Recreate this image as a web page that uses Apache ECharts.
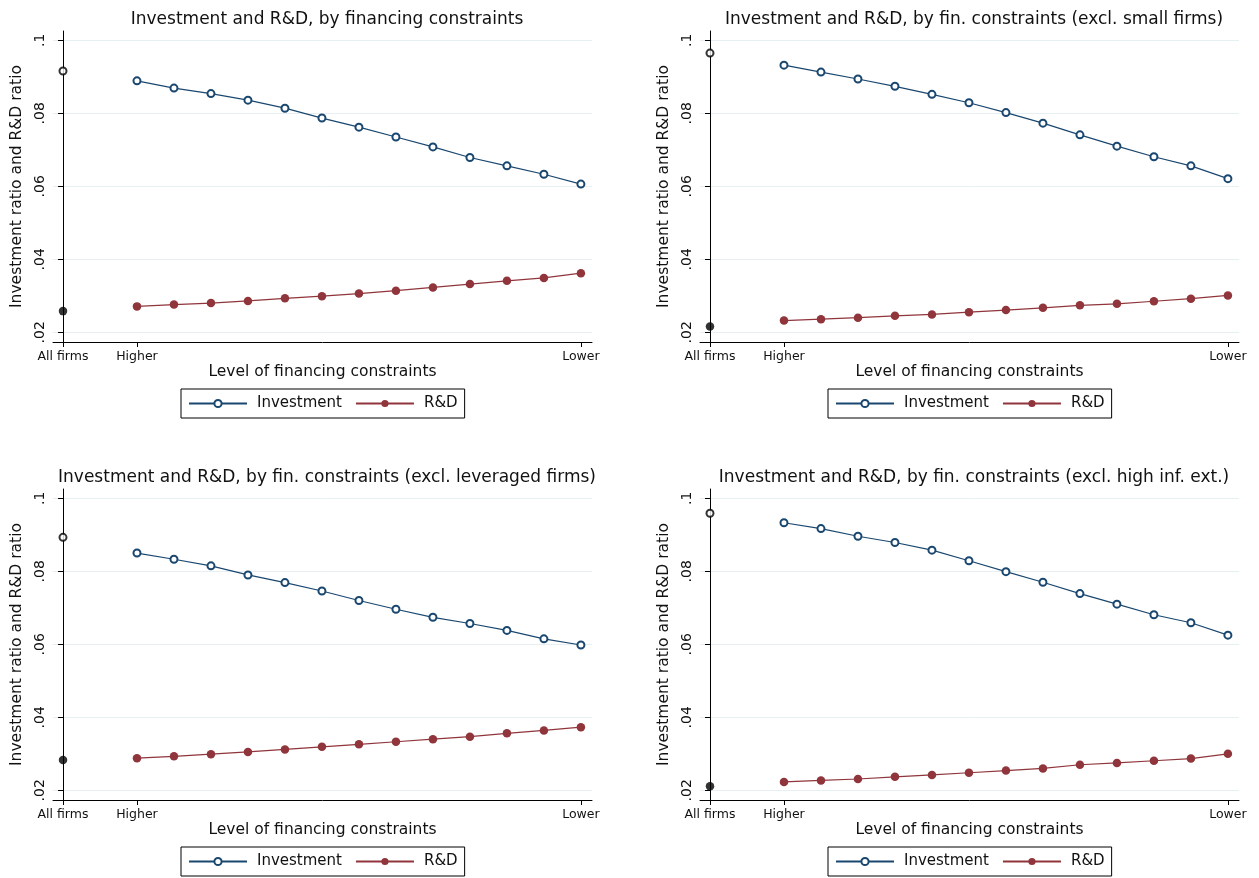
<!DOCTYPE html>
<html>
<head>
<meta charset="utf-8">
<script src="https://cdn.jsdelivr.net/npm/echarts@6/dist/echarts.min.js"></script>
<style>
  html, body { margin: 0; padding: 0; background: #fff; }
  .panel { position: absolute; width: 640px; height: 440px; }
</style>
</head>
<body>
<div id="p1" class="panel" style="left:0;top:0"></div>
<div id="p2" class="panel" style="left:647px;top:0;width:612px"></div>
<div id="p3" class="panel" style="left:0;top:458px"></div>
<div id="p4" class="panel" style="left:647px;top:458px;width:612px"></div>
<script>
// x positions: "All firms" sits at 0, the constraint levels run from 2 (Higher) to 14 (Lower)
const levelX = [2, 3, 4, 5, 6, 7, 8, 9, 10, 11, 12, 13, 14];
const allFirmsX = 0;
const xTickValues = [0, 2, 14];
const xTickLabels = ["All firms", "Higher", "Lower"];
const yTickValues = [0.02, 0.04, 0.06, 0.08, 0.1];

const titles = [
  "Investment and R&D, by financing constraints",
  "Investment and R&D, by fin. constraints (excl. small firms)",
  "Investment and R&D, by fin. constraints (excl. leveraged firms)",
  "Investment and R&D, by fin. constraints (excl. high inf. ext.)",
];

// panel 1: all firms
const inv1 = [0.0889, 0.0869, 0.0854, 0.0836, 0.0814, 0.0787, 0.0762, 0.0735, 0.0708, 0.0679, 0.0656, 0.0633, 0.0606];
const rd1 = [0.0271, 0.0276, 0.0280, 0.0286, 0.0293, 0.0299, 0.0306, 0.0314, 0.0323, 0.0332, 0.0341, 0.0349, 0.0362];
const allInv1 = 0.0916, allRd1 = 0.0258;

// panel 2: excl. small firms
const inv2 = [0.0932, 0.0913, 0.0894, 0.0874, 0.0852, 0.0829, 0.0802, 0.0773, 0.0741, 0.0710, 0.0681, 0.0656, 0.0621];
const rd2 = [0.0232, 0.0236, 0.0240, 0.0245, 0.0249, 0.0255, 0.0261, 0.0267, 0.0274, 0.0278, 0.0285, 0.0292, 0.0301];
const allInv2 = 0.0965, allRd2 = 0.0216;

// panel 3: excl. leveraged firms
const inv3 = [0.0850, 0.0833, 0.0815, 0.0790, 0.0769, 0.0746, 0.0720, 0.0696, 0.0674, 0.0657, 0.0638, 0.0615, 0.0598];
const rd3 = [0.0288, 0.0293, 0.0299, 0.0305, 0.0312, 0.0319, 0.0326, 0.0333, 0.0340, 0.0347, 0.0356, 0.0364, 0.0373];
const allInv3 = 0.0893, allRd3 = 0.0283;

// panel 4: excl. high inf. ext.
const inv4 = [0.0933, 0.0917, 0.0896, 0.0879, 0.0858, 0.0829, 0.0799, 0.0770, 0.0739, 0.0710, 0.0681, 0.0659, 0.0625];
const rd4 = [0.0223, 0.0227, 0.0231, 0.0237, 0.0242, 0.0248, 0.0254, 0.0260, 0.0270, 0.0275, 0.0281, 0.0287, 0.0300];
const allInv4 = 0.0959, allRd4 = 0.0211;

const FONT = "DejaVu Sans";
const NAVY = "#1a476f";
const MAROON = "#90353b";
const INK = "#111";

function pairs(xs, ys) {
  return xs.map((x, i) => [x, ys[i]]);
}

function tickLabel(value) {
  const index = xTickValues.indexOf(Math.round(value));
  return index >= 0 ? xTickLabels[index] : "";
}

function buildPanel(domId, title, inv, rd, allInv, allRd) {
  const chart = echarts.init(document.getElementById(domId), null, { renderer: "canvas" });
  chart.setOption({
    animation: false,
    backgroundColor: "#fff",
    textStyle: { fontFamily: FONT },
    title: {
      text: title,
      left: 322,
      textAlign: "center",
      top: 6,
      textStyle: { fontFamily: FONT, fontSize: 17, fontWeight: "normal", color: INK },
    },
    legend: {
      data: ["Investment", "R&D"],
      left: 181,
      top: 389,
      orient: "horizontal",
      padding: [7, 7, 7, 7],
      itemGap: 13,
      itemWidth: 58,
      itemHeight: 9,
      borderColor: "#000",
      borderWidth: 1,
      textStyle: { fontFamily: FONT, fontSize: 15, color: INK, padding: [0, 0, 0, 5] },
    },
    grid: { left: 53, top: 31, width: 539, height: 311 },
    xAxis: {
      type: "value",
      min: -0.27,
      max: 14.3,
      name: "Level of financing constraints",
      nameLocation: "middle",
      nameGap: 22,
      nameMoveOverlap: false,
      nameTextStyle: { fontFamily: FONT, fontSize: 15.5, color: INK },
      axisLine: { show: true, onZero: false, lineStyle: { color: "#000", width: 1 } },
      axisTick: { show: true, length: 5, customValues: xTickValues, lineStyle: { color: "#000" } },
      axisLabel: {
        customValues: xTickValues,
        formatter: tickLabel,
        margin: 8,
        fontFamily: FONT,
        fontSize: 12.5,
        color: INK,
      },
      splitLine: { show: false },
    },
    yAxis: {
      type: "value",
      min: 0.01734,
      max: 0.10255,
      name: "Investment ratio and R&D ratio",
      nameLocation: "middle",
      nameGap: 25,
      nameTextStyle: { fontFamily: FONT, fontSize: 15.5, color: INK },
      axisLine: { show: true, lineStyle: { color: "#000", width: 1 } },
      axisTick: { show: true, length: 5, customValues: yTickValues, lineStyle: { color: "#000" } },
      axisLabel: {
        customValues: yTickValues,
        rotate: 90,
        margin: 6,
        fontFamily: FONT,
        fontSize: 14,
        color: INK,
        formatter: value => String(+value.toFixed(2)).replace(/^0/, ""),
      },
      splitLine: { show: true, lineStyle: { color: "#e6eff1", width: 1 } },
    },
    series: [
      {
        name: "Investment",
        type: "line",
        data: pairs(levelX, inv),
        symbol: "emptyCircle",
        symbolSize: 7,
        lineStyle: { color: NAVY, width: 1.2 },
        itemStyle: { color: NAVY, borderColor: NAVY, borderWidth: 1 },
      },
      {
        name: "R&D",
        type: "line",
        data: pairs(levelX, rd),
        symbol: "circle",
        symbolSize: 8.5,
        lineStyle: { color: MAROON, width: 1.2 },
        itemStyle: { color: MAROON },
      },
      {
        name: "All firms investment",
        type: "scatter",
        data: [[allFirmsX, allInv]],
        symbol: "emptyCircle",
        symbolSize: 7,
        itemStyle: { color: "#000", borderColor: "#000", borderWidth: 1 },
      },
      {
        name: "All firms R&D",
        type: "scatter",
        data: [[allFirmsX, allRd]],
        symbol: "circle",
        symbolSize: 8.5,
        itemStyle: { color: "#000" },
      },
    ],
  });
  return chart;
}

buildPanel("p1", titles[0], inv1, rd1, allInv1, allRd1);
buildPanel("p2", titles[1], inv2, rd2, allInv2, allRd2);
buildPanel("p3", titles[2], inv3, rd3, allInv3, allRd3);
buildPanel("p4", titles[3], inv4, rd4, allInv4, allRd4);
</script>
</body>
</html>
